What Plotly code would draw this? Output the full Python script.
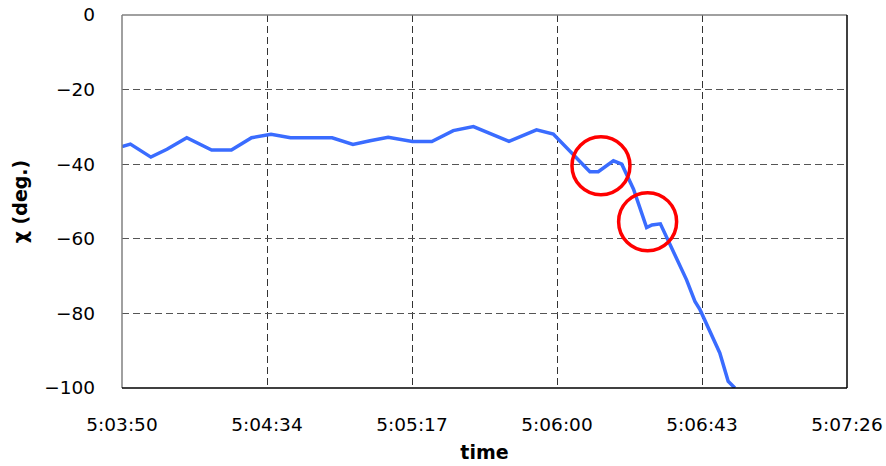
import plotly.graph_objects as go

# Data (time of day, chi in degrees)
times = ["5:03:50.0", "5:03:52.5", "5:03:58.6", "5:04:03.4", "5:04:09.3", "5:04:16.7",
         "5:04:22.6", "5:04:28.6", "5:04:34.4", "5:04:40.2", "5:04:52.6", "5:04:58.8",
         "5:05:03.9", "5:05:09.3", "5:05:16.5", "5:05:22.3", "5:05:28.7", "5:05:34.7",
         "5:05:45.3", "5:05:53.5", "5:05:58.5", "5:06:09.4", "5:06:11.9", "5:06:16.4",
         "5:06:18.9", "5:06:22.4", "5:06:26.3", "5:06:27.9", "5:06:30.4", "5:06:34.4",
         "5:06:38.2", "5:06:40.7", "5:06:42.2", "5:06:48.1", "5:06:50.6", "5:06:52.6"]
chi = [-35.3, -34.6, -38.1, -36.0, -32.9, -36.2,
       -36.2, -32.9, -32.0, -32.9, -32.9, -34.7,
       -33.7, -32.8, -33.9, -33.9, -31.0, -29.9,
       -33.9, -30.8, -31.9, -42.0, -42.0, -39.1,
       -40.0, -46.7, -57.0, -56.3, -56.0, -63.5,
       -71.0, -76.8, -79.0, -90.6, -98.2, -100.0]

tick_labels = ["5:03:50", "5:04:34", "5:05:17", "5:06:00", "5:06:43", "5:07:26"]
x_start = "5:03:50"
x_step = 43.2  # seconds per major tick
circle_centers_t = ["5:06:12.7", "5:06:26.6"]
circle_centers_chi = [-40.4, -55.4]


def to_sec(s):
    h, m, sec = s.split(":")
    return int(h) * 3600 + int(m) * 60 + float(sec)


t0 = to_sec(x_start)
xs = [to_sec(t) - t0 for t in times]
tickvals = [i * x_step for i in range(len(tick_labels))]

fig = go.Figure()
fig.add_trace(go.Scatter(x=xs, y=chi, mode="lines",
                         line=dict(color="#3a6cff", width=3.5), showlegend=False,
                         cliponaxis=True, hoverinfo="skip"))

tick_font = dict(family="DejaVu Sans, sans-serif", size=18.5, color="#000")
title_font = dict(family="DejaVu Sans, sans-serif", size=19, color="#000")

fig.update_xaxes(range=[0, tickvals[-1]], tickvals=tickvals, ticktext=tick_labels,
                 showgrid=True, gridcolor="#333", griddash="7px,4px", gridwidth=1,
                 zeroline=False, showline=False, ticks="", tickfont=tick_font,
                 ticklabelstandoff=23, automargin=False, ticklabeloverflow="allow",
                 title=dict(text="<b>time</b>", font=title_font, standoff=12))
fig.update_yaxes(range=[-100, 0], dtick=20, tick0=0,
                 showgrid=True, gridcolor="#555", griddash="7px,4px", gridwidth=1,
                 zeroline=False, showline=False, ticks="", tickfont=tick_font,
                 ticklabelstandoff=26, automargin=False, ticklabeloverflow="allow",
                 title=dict(text="<b>χ (deg.)</b>", font=title_font, standoff=11))

# plot-area border
fig.add_shape(type="line", xref="paper", yref="paper", x0=0, x1=0, y0=0, y1=1,
              line=dict(color="#808080", width=1.5))
fig.add_shape(type="line", xref="paper", yref="paper", x0=0, x1=1, y0=1, y1=1,
              line=dict(color="#808080", width=1.5))
fig.add_shape(type="line", xref="paper", yref="paper", x0=0, x1=1, y0=0, y1=0,
              line=dict(color="#000", width=1.5))
fig.add_shape(type="line", xref="paper", yref="paper", x0=1, x1=1, y0=0, y1=1,
              line=dict(color="#000", width=1.5))

# red circles
r = 29
for ct, cc in zip(circle_centers_t, circle_centers_chi):
    fig.add_shape(type="circle", xref="x", yref="y",
                  xsizemode="pixel", ysizemode="pixel",
                  xanchor=to_sec(ct) - t0, yanchor=cc,
                  x0=-r, x1=r, y0=-r, y1=r,
                  line=dict(color="#ff0000", width=3.5))

fig.update_layout(width=886, height=466, plot_bgcolor="white", paper_bgcolor="white",
                  margin=dict(l=122, r=39, t=15, b=78), hovermode=False)

fig.write_html("out.html", config={"displayModeBar": False},
               post_script="document.body.style.margin='0';document.body.style.overflow='hidden';")
